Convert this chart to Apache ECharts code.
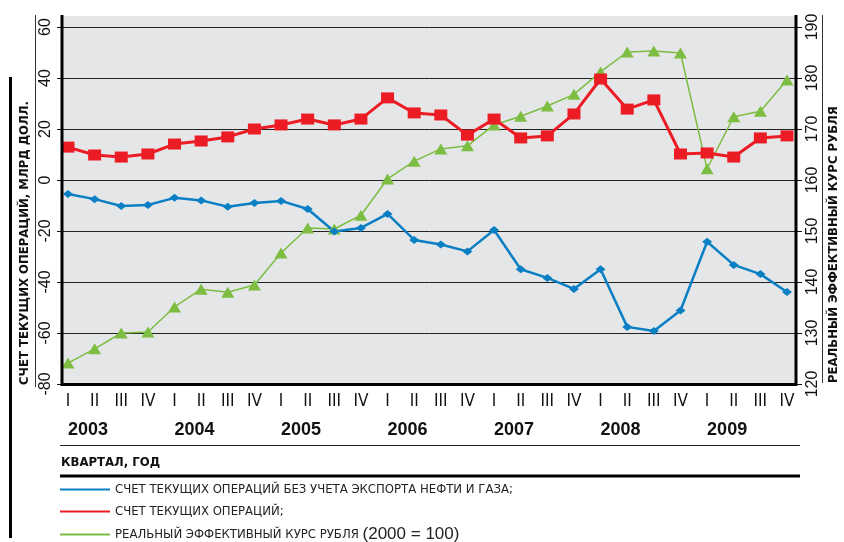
<!DOCTYPE html>
<html>
<head>
<meta charset="utf-8">
<script src="https://cdn.jsdelivr.net/npm/echarts@6/dist/echarts.min.js"></script>
<style>
  html, body { margin: 0; padding: 0; background: #fff; }
  #chart { width: 844px; height: 542px; }
</style>
</head>
<body>
<div id="chart"></div>
<script>
// квартальные данные 2003–2009
var years = ['2003', '2004', '2005', '2006', '2007', '2008', '2009'];
var quarters = ['I', 'II', 'III', 'IV'];

// счет текущих операций без учета экспорта нефти и газа, млрд долл.
var nonOilValues = [
  -5.5, -7.5, -10.2, -9.8,
  -7.0, -8.0, -10.5, -9.0,
  -8.2, -11.4, -20.2, -18.8,
  -13.3, -23.5, -25.3, -28.0,
  -19.6, -35.0, -38.4, -42.7,
  -35.0, -57.6, -59.2, -51.2,
  -24.2, -33.3, -36.9, -43.9
];
// счет текущих операций, млрд долл.
var currentValues = [
  12.9, 9.8, 9.0, 10.2,
  14.1, 15.3, 16.9, 20.0,
  21.6, 23.9, 21.6, 23.9,
  32.2, 26.3, 25.5, 17.6,
  23.9, 16.5, 17.3, 25.9,
  39.6, 27.8, 31.4, 10.2,
  10.6, 9.0, 16.5, 17.3
];
// реальный эффективный курс рубля (2000 = 100)
var rateValues = [
  124.1, 126.9, 130.0, 130.2,
  135.1, 138.6, 138.0, 139.4,
  145.7, 150.6, 150.4, 153.1,
  160.2, 163.7, 166.1, 166.7,
  170.8, 172.5, 174.5, 176.8,
  181.2, 185.1, 185.3, 184.9,
  162.2, 172.4, 173.5, 179.6
];

var nameNonOil = 'СЧЕТ ТЕКУЩИХ ОПЕРАЦИЙ БЕЗ УЧЕТА ЭКСПОРТА НЕФТИ И ГАЗА;';
var nameCurrent = 'СЧЕТ ТЕКУЩИХ ОПЕРАЦИЙ;';
var nameRate = 'РЕАЛЬНЫЙ ЭФФЕКТИВНЫЙ КУРС РУБЛЯ (2000 = 100)';

var categories = [];
years.forEach(function (y) {
  quarters.forEach(function (q) { categories.push(y + ' ' + q); });
});

var narrow = '"Liberation Sans Narrow", "DejaVu Sans Condensed", "Roboto Condensed", sans-serif';
var plain = '"Liberation Sans", Arial, sans-serif';

var chart = echarts.init(document.getElementById('chart'));

var option = {
  animation: false,
  backgroundColor: '#fff',
  grid: [
    // рамка, сетка и шкалы
    { left: 62, right: 47, top: 27, bottom: 158 },
    // данные
    { left: 68, right: 57, top: 27, bottom: 158 }
  ],
  xAxis: [
    { type: 'value', gridIndex: 0, min: 0, max: 1, show: false },
    {
      type: 'category', gridIndex: 1, data: categories, boundaryGap: false,
      axisLine: { show: false }, axisTick: { show: false }, splitLine: { show: false },
      axisLabel: {
        interval: 0, margin: 9, color: '#111', fontFamily: narrow, fontSize: 17,
        formatter: function (v) { return v.split(' ')[1]; }
      }
    },
    {
      type: 'category', gridIndex: 1, data: categories, boundaryGap: false, position: 'bottom',
      axisLine: { show: false }, axisTick: { show: false }, splitLine: { show: false },
      axisLabel: {
        interval: 0, margin: 37, align: 'left', color: '#111', fontFamily: plain,
        fontSize: 18, fontWeight: 'bold',
        formatter: function (v) {
          var p = v.split(' ');
          return p[1] === 'I' ? p[0] : '';
        }
      }
    }
  ],
  yAxis: [
    {
      type: 'value', gridIndex: 0, position: 'left', min: -80, max: 60, interval: 20,
      axisLine: { show: false },
      axisTick: { show: true, inside: false, length: 5, lineStyle: { color: '#111', width: 1 } },
      axisLabel: { rotate: 90, margin: 8, color: '#111', fontFamily: plain, fontSize: 16 },
      splitLine: { show: true, lineStyle: { color: '#222', width: 1 } }
    },
    {
      type: 'value', gridIndex: 0, position: 'right', min: 120, max: 190, interval: 10,
      axisLine: { show: false },
      axisTick: { show: true, inside: false, length: 5, lineStyle: { color: '#111', width: 1 } },
      axisLabel: { rotate: 90, margin: 8, color: '#111', fontFamily: plain, fontSize: 16 },
      splitLine: { show: false }
    },
    { type: 'value', gridIndex: 1, min: -80, max: 60, show: false },
    { type: 'value', gridIndex: 1, min: 120, max: 190, show: false, position: 'right' }
  ],
  legend: {
    orient: 'vertical', left: 60, top: 482, height: 80, padding: 0,
    itemWidth: 50, itemHeight: 2, itemGap: 7,
    icon: 'rect',
    data: [nameNonOil, nameCurrent, nameRate],
    textStyle: {
      color: '#222', fontFamily: narrow, fontSize: 13, lineHeight: 15,
      rich: {
        a: { color: '#222', fontFamily: narrow, fontSize: 13, lineHeight: 15 },
        b: { color: '#222', fontFamily: plain, fontSize: 17, lineHeight: 15 }
      }
    },
    formatter: function (name) {
      if (name === nameRate) {
        var i = name.indexOf(' (');
        return '{a|' + name.slice(0, i) + '} {b|' + name.slice(i + 1) + '}';
      }
      return name;
    }
  },
  series: [
    {
      name: nameRate, type: 'line', xAxisIndex: 1, yAxisIndex: 3, data: rateValues,
      symbol: 'triangle', symbolSize: [13, 11],
      lineStyle: { color: '#7cbd42', width: 1.5 },
      itemStyle: { color: '#7cbd42' }
    },
    {
      name: nameNonOil, type: 'line', xAxisIndex: 1, yAxisIndex: 2, data: nonOilValues,
      symbol: 'diamond', symbolSize: [10, 8],
      lineStyle: { color: '#0a7fc4', width: 2.5 },
      itemStyle: { color: '#0a7fc4' }
    },
    {
      name: nameCurrent, type: 'line', xAxisIndex: 1, yAxisIndex: 2, data: currentValues,
      symbol: 'rect', symbolSize: [13, 11],
      lineStyle: { color: '#ec1c24', width: 3 },
      itemStyle: { color: '#ec1c24' }
    }
  ],
  graphic: [
    // серый фон области графика
    { type: 'rect', z: -10, shape: { x: 62, y: 16, width: 735, height: 369 }, style: { fill: '#e5e6e8' } },
    // рамка
    { type: 'line', z: 100, shape: { x1: 62, y1: 15, x2: 62, y2: 386 }, style: { stroke: '#000', lineWidth: 3 } },
    { type: 'line', z: 100, shape: { x1: 796, y1: 15, x2: 796, y2: 386 }, style: { stroke: '#000', lineWidth: 3 } },
    { type: 'line', z: 100, shape: { x1: 61, y1: 384.5, x2: 797, y2: 384.5 }, style: { stroke: '#000', lineWidth: 3 } },
    // вертикальные линии у подписей осей
    { type: 'line', shape: { x1: 35.5, y1: 15, x2: 35.5, y2: 387 }, style: { stroke: '#333', lineWidth: 1 } },
    { type: 'line', shape: { x1: 822.5, y1: 15, x2: 822.5, y2: 383 }, style: { stroke: '#333', lineWidth: 1 } },
    { type: 'line', shape: { x1: 10.5, y1: 77, x2: 10.5, y2: 538 }, style: { stroke: '#000', lineWidth: 3 } },
    // горизонтальные линии под осью
    { type: 'line', shape: { x1: 60, y1: 445.5, x2: 800, y2: 445.5 }, style: { stroke: '#222', lineWidth: 1 } },
    { type: 'line', shape: { x1: 60, y1: 476, x2: 800, y2: 476 }, style: { stroke: '#000', lineWidth: 3 } },
    // подписи осей
    {
      type: 'text', x: 25, y: 385, rotation: Math.PI / 2,
      style: { text: 'СЧЕТ ТЕКУЩИХ ОПЕРАЦИЙ, МЛРД ДОЛЛ.', fill: '#111', textAlign: 'left', textVerticalAlign: 'middle',
        font: 'bold 13px ' + narrow }
    },
    {
      type: 'text', x: 834, y: 383, rotation: Math.PI / 2,
      style: { text: 'РЕАЛЬНЫЙ ЭФФЕКТИВНЫЙ КУРС РУБЛЯ', fill: '#111', textAlign: 'left', textVerticalAlign: 'middle',
        font: 'bold 13px ' + narrow }
    },
    {
      type: 'text', x: 61, y: 463,
      style: { text: 'КВАРТАЛ, ГОД', fill: '#111', textAlign: 'left', textVerticalAlign: 'middle',
        font: 'bold 13px ' + narrow }
    }
  ]
};

chart.setOption(option);
</script>
</body>
</html>
